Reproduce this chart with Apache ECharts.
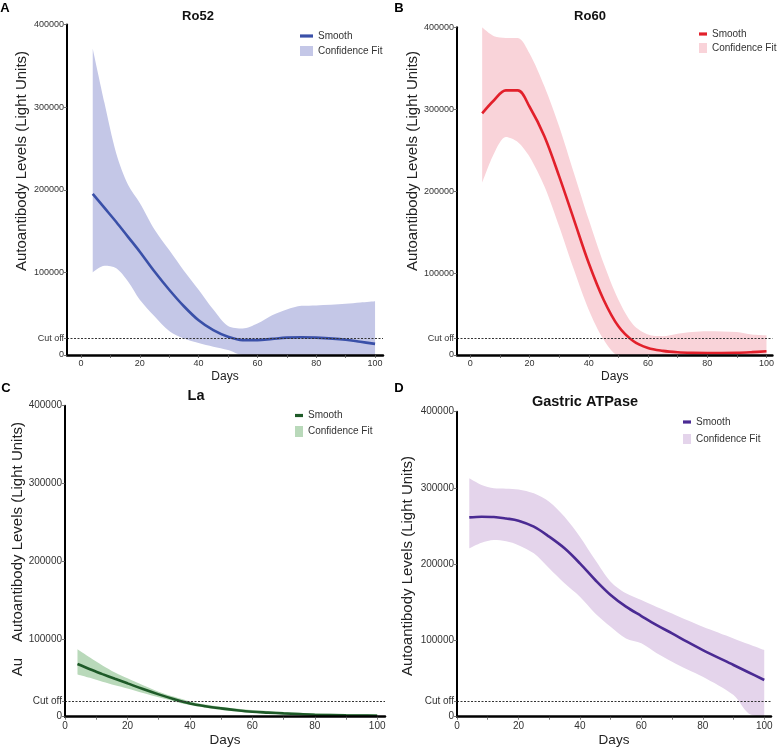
<!DOCTYPE html>
<html>
<head>
<meta charset="utf-8">
<script src="https://cdn.jsdelivr.net/npm/echarts@6/dist/echarts.min.js"></script>
<style>
html,body{margin:0;padding:0;background:#fff;}
#chart{width:777px;height:752px;}
</style>
</head>
<body>
<div id="chart"></div>
<script>
// ---------- data ----------
const days = [4, 8, 12, 16, 20, 25, 30, 35, 40, 45, 50, 55, 60, 65, 70, 75, 80, 90, 95, 100];

const ro52Smooth = [195000, 178000, 161000, 143000, 125000, 101000, 79000, 59000, 42000, 30000, 22000, 18000, 18000, 19500, 21000, 21500, 21000, 18500, 16000, 13500];
const ro52Upper  = [371000, 305000, 244000, 206000, 184000, 152000, 127000, 102000, 79000, 55000, 35000, 32000, 38000, 48000, 55000, 59500, 60000, 62000, 63500, 65000];
const ro52Lower  = [100000, 108000, 105000, 89000, 67000, 47000, 29000, 20000, 14500, 10000, 6000, 0, 0, 0, 0, 0, 0, 0, 0, 0];

const ro60Smooth = [295000, 311000, 323000, 323000, 303000, 267000, 218000, 165000, 112000, 67500, 35000, 17000, 8500, 5000, 3300, 2600, 2400, 2800, 3500, 4500];
const ro60Upper  = [400000, 389000, 387000, 387000, 368000, 328000, 279000, 222000, 165000, 112000, 67500, 37000, 25000, 23000, 26000, 28000, 29000, 28000, 25000, 24000];
const ro60Lower  = [210000, 246000, 266000, 260000, 242000, 206000, 157000, 104000, 55000, 19000, 0, 0, 0, 0, 0, 0, 0, 0, 0, 0];

const laSmooth = [67700, 61000, 54800, 48800, 42900, 35500, 28700, 22500, 17100, 13500, 10700, 8300, 6400, 5300, 4300, 3400, 2600, 1700, 1500, 1300];
const laUpper  = [86600, 76000, 66000, 57000, 49300, 40500, 32200, 25500, 19700, 15800, 12900, 10500, 8600, 7200, 6000, 5100, 4300, 3400, 3400, 3400];
const laLower  = [54400, 50000, 45000, 40500, 36400, 30500, 24900, 19700, 15000, 11500, 8600, 6700, 5100, 4000, 3000, 2300, 1700, 900, 600, 400];

const gaSmooth = [261400, 262300, 262000, 260000, 257100, 249200, 236100, 220800, 201100, 179300, 159600, 144300, 132000, 120000, 109300, 98000, 87400, 67800, 58000, 48100];
const gaUpper  = [312600, 303900, 299500, 299000, 298000, 292900, 282000, 262300, 236100, 205500, 177100, 161800, 153000, 144000, 135500, 126500, 118000, 102700, 95000, 87400];
const gaLower  = [220800, 228200, 231700, 230000, 225000, 214200, 194600, 174900, 157400, 135500, 118000, 102700, 96200, 83100, 72100, 62000, 52500, 28400, 4000, 0];

const panelTitles = ['Ro52', 'Ro60', 'La', 'Gastric ATPase'];
const panelLetters = ['A', 'B', 'C', 'D'];
const yTickValues = [0, 20000, 100000, 200000, 300000, 400000];
const xLabelValues = [0, 20, 40, 60, 80, 100];
const xTickValues = [0, 10, 20, 30, 40, 50, 60, 70, 80, 90, 100];
const cutOff = 20000;
const yTitle = 'Autoantibody Levels (Light Units)';
const yTitleFragment = 'Au';
const xTitle = 'Days';
const legendNames = ['Smooth', 'Confidence Fit'];

// ---------- styling / layout ----------
const FF = '"Liberation Sans", Arial, Helvetica, sans-serif';
const panels = [
  { s: ro52Smooth, u: ro52Upper, l: ro52Lower, line: '#3a50a8', band: '#c4c7e7',
    grid: { left: 67, top: 24.5, width: 316, height: 330.5 }, xmin: -4.75, xmax: 102.7,
    small: true, legend: { left: 295, top: 26, w: 13, h: 10, gap: 5 },
    title: [198, 16, 13], letter: [5, 8], ytitle: [22, 161] },
  { s: ro60Smooth, u: ro60Upper, l: ro60Lower, line: '#e2202b', band: '#f9d3d9',
    grid: { left: 457, top: 27.3, width: 316, height: 327.7 }, xmin: -4.5, xmax: 102,
    small: true, legend: { left: 694, top: 24, w: 8, h: 10, gap: 4 },
    title: [590, 16, 13], letter: [399, 8], ytitle: [413, 161] },
  { s: laSmooth, u: laUpper, l: laLower, line: '#1e5a28', band: '#b9d9ba',
    grid: { left: 65, top: 405.7, width: 320, height: 311 }, xmin: 0, xmax: 102.5,
    small: false, legend: { left: 290, top: 405.5, w: 8, h: 11, gap: 5.5 },
    title: [196, 396, 14.5], letter: [6, 388], ytitle: [18, 532] },
  { s: gaSmooth, u: gaUpper, l: gaLower, line: '#4a2a93', band: '#e4d4eb',
    grid: { left: 457, top: 411.7, width: 314, height: 305 }, xmin: 0, xmax: 102.2,
    small: false, legend: { left: 678, top: 412, w: 8, h: 10, gap: 7 },
    title: [585, 402, 14.5], letter: [399, 388], ytitle: [408, 566] }
];

const grids = [], xAxes = [], yAxes = [], series = [], legends = [], graphics = [];

panels.forEach((p, i) => {
  const tag = ' ' + panelLetters[i];
  const labFs = p.small ? 9 : 10;
  grids.push(Object.assign({ containLabel: false }, p.grid));
  xAxes.push({
    type: 'value', gridIndex: i, min: p.xmin, max: p.xmax, z: 10,
    name: xTitle, nameLocation: 'middle', nameGap: p.small ? 16 : 17,
    nameTextStyle: { fontFamily: FF, fontSize: p.small ? 12 : 13.5, color: '#222' },
    axisLine: { show: true, onZero: false, lineStyle: { color: '#000', width: 2.5 } },
    axisTick: { show: true, customValues: xTickValues, length: 3, lineStyle: { color: '#555', width: 0.8 } },
    axisLabel: { customValues: xLabelValues, fontFamily: FF, fontSize: labFs, color: '#333', margin: p.small ? 4 : 5 },
    splitLine: { show: false }
  });
  yAxes.push({
    type: 'value', gridIndex: i, min: 0, max: 400000, z: 10,
    axisLine: { show: true, onZero: false, lineStyle: { color: '#000', width: 2 } },
    axisTick: { show: true, customValues: yTickValues, length: 3, lineStyle: { color: '#555', width: 0.8 } },
    axisLabel: { customValues: yTickValues, fontFamily: FF, fontSize: labFs, color: '#333', margin: 3,
      formatter: v => (v === cutOff ? 'Cut off' : String(v)) },
    splitLine: { show: false }
  });
  // band as stacked pair: [value, day] with encode so the value column is the stacked one
  const lowerData = days.map((d, k) => [p.l[k], d]);
  const bandData = days.map((d, k) => [p.u[k] - p.l[k], d]);
  const smoothData = days.map((d, k) => [d, p.s[k]]);
  series.push({
    type: 'line', name: 'lower' + tag, xAxisIndex: i, yAxisIndex: i, stack: 'band' + i,
    encode: { x: 1, y: 0 },
    data: lowerData, symbol: 'none', smooth: 0.3,
    lineStyle: { width: 0, opacity: 0 }, silent: true, z: 1
  });
  series.push({
    type: 'line', name: legendNames[1] + tag, xAxisIndex: i, yAxisIndex: i, stack: 'band' + i,
    encode: { x: 1, y: 0 },
    data: bandData, symbol: 'none', smooth: 0.3,
    lineStyle: { width: 0, opacity: 0 }, itemStyle: { color: p.band },
    areaStyle: { color: p.band, opacity: 1 }, silent: true, z: 1
  });
  series.push({
    type: 'line', name: legendNames[0] + tag, xAxisIndex: i, yAxisIndex: i,
    data: smoothData, symbol: 'none', smooth: 0.35,
    lineStyle: { color: p.line, width: 2.6 }, itemStyle: { color: p.line }, z: 4,
    markLine: {
      silent: true, symbol: 'none', label: { show: false },
      lineStyle: { color: '#333', width: 1, type: [2, 1.5] },
      data: [{ yAxis: cutOff }]
    }
  });
  const barPath = 'path://M0,0 L' + p.legend.w + ',0 L' + p.legend.w + ',3.2 L0,3.2 Z';
  legends.push({
    orient: 'vertical', left: p.legend.left, top: p.legend.top,
    itemWidth: p.legend.w, itemHeight: p.legend.h, itemGap: p.legend.gap,
    selectedMode: false,
    textStyle: { fontFamily: FF, fontSize: 10, color: '#333' },
    formatter: n => n.replace(/ [A-D]$/, ''),
    data: [
      { name: legendNames[0] + tag, icon: barPath, itemStyle: { color: p.line } },
      { name: legendNames[1] + tag, icon: 'rect', itemStyle: { color: p.band } }
    ]
  });
  graphics.push({ type: 'text', x: p.title[0], y: p.title[1],
    style: { text: panelTitles[i], fontFamily: FF, fontSize: p.title[2], fontWeight: 'bold', fill: '#111', align: 'center', verticalAlign: 'middle' } });
  graphics.push({ type: 'text', x: p.letter[0], y: p.letter[1],
    style: { text: panelLetters[i], fontFamily: FF, fontSize: 13, fontWeight: 'bold', fill: '#000', align: 'center', verticalAlign: 'middle' } });
  graphics.push({ type: 'text', x: p.ytitle[0], y: p.ytitle[1], rotation: Math.PI / 2,
    style: { text: yTitle, fontFamily: FF, fontSize: 15, fill: '#222', align: 'center', verticalAlign: 'middle' } });
});
// leftover fragment of an older axis title visible in panel C of the original figure
graphics.push({ type: 'text', x: 18, y: 667, rotation: Math.PI / 2,
  style: { text: yTitleFragment, fontFamily: FF, fontSize: 15, fill: '#222', align: 'center', verticalAlign: 'middle' } });

const chart = echarts.init(document.getElementById('chart'), null, { renderer: 'canvas' });
chart.setOption({
  animation: false,
  backgroundColor: '#fff',
  grid: grids, xAxis: xAxes, yAxis: yAxes, series: series, legend: legends,
  graphic: graphics
});
</script>
</body>
</html>
